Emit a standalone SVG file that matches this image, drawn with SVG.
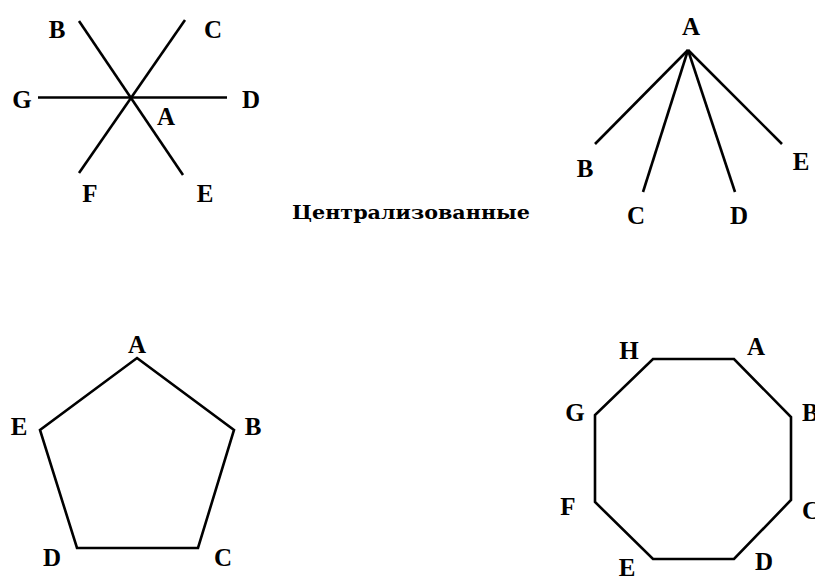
<svg xmlns="http://www.w3.org/2000/svg" width="815" height="579" viewBox="0 0 815 579">
<style>
.l{font-family:"Liberation Serif","Times New Roman",serif;font-weight:bold;font-size:25px;fill:#000;text-anchor:middle}
.e{stroke:#000;stroke-width:2.6;fill:none;stroke-linejoin:miter}
.t{font-family:"DejaVu Serif","Liberation Serif",serif;font-weight:bold;font-size:19px;fill:#000}
</style>
<rect width="815" height="579" fill="#fff"/>
<g id="connectors">
  <line class="e" x1="79" y1="21" x2="183" y2="175"/>
  <line class="e" x1="185" y1="20" x2="79" y2="173"/>
  <line class="e" x1="38" y1="97.5" x2="227" y2="97.5"/>
  <line class="e" x1="688" y1="50" x2="595" y2="144"/>
  <line class="e" x1="688" y1="50" x2="643" y2="192"/>
  <line class="e" x1="688" y1="50" x2="735" y2="192"/>
  <line class="e" x1="688" y1="50" x2="782" y2="144"/>
  <polygon class="e" points="137,358 234,430 198,548 77,548 40,430"/>
  <polygon class="e" points="653,359 734,359 791,417 791,500 734,559 653,559 595,502 595,415"/>
</g>
<g id="star">
  <g id="star-A"><text class="l" x="166" y="125">A</text></g>
  <g id="star-B"><text class="l" x="57" y="38">B</text></g>
  <g id="star-C"><text class="l" x="213" y="38">C</text></g>
  <g id="star-D"><text class="l" x="251" y="108">D</text></g>
  <g id="star-E"><text class="l" x="205" y="202">E</text></g>
  <g id="star-F"><text class="l" x="90" y="202">F</text></g>
  <g id="star-G"><text class="l" x="22" y="108">G</text></g>
</g>
<g id="tree">
  <g id="tree-A"><text class="l" x="691" y="35">A</text></g>
  <g id="tree-B"><text class="l" x="585" y="177">B</text></g>
  <g id="tree-C"><text class="l" x="636" y="224">C</text></g>
  <g id="tree-D"><text class="l" x="739" y="224">D</text></g>
  <g id="tree-E"><text class="l" x="801" y="170">E</text></g>
</g>
<g id="caption"><text class="t" x="292" y="219" textLength="238" lengthAdjust="spacingAndGlyphs">Централизованные</text></g>
<g id="pentagon">
  <g id="pent-A"><text class="l" x="137" y="353">A</text></g>
  <g id="pent-B"><text class="l" x="253" y="435">B</text></g>
  <g id="pent-C"><text class="l" x="223" y="566">C</text></g>
  <g id="pent-D"><text class="l" x="52" y="566">D</text></g>
  <g id="pent-E"><text class="l" x="19" y="435">E</text></g>
</g>
<g id="octagon">
  <g id="oct-A"><text class="l" x="756" y="355">A</text></g>
  <g id="oct-B"><text class="l" x="802" y="421" style="text-anchor:start">B</text></g>
  <g id="oct-C"><text class="l" x="802" y="519" style="text-anchor:start">C</text></g>
  <g id="oct-D"><text class="l" x="764" y="570">D</text></g>
  <g id="oct-E"><text class="l" x="627" y="576">E</text></g>
  <g id="oct-F"><text class="l" x="568" y="515">F</text></g>
  <g id="oct-G"><text class="l" x="575" y="421">G</text></g>
  <g id="oct-H"><text class="l" x="629" y="359">H</text></g>
</g>
</svg>
